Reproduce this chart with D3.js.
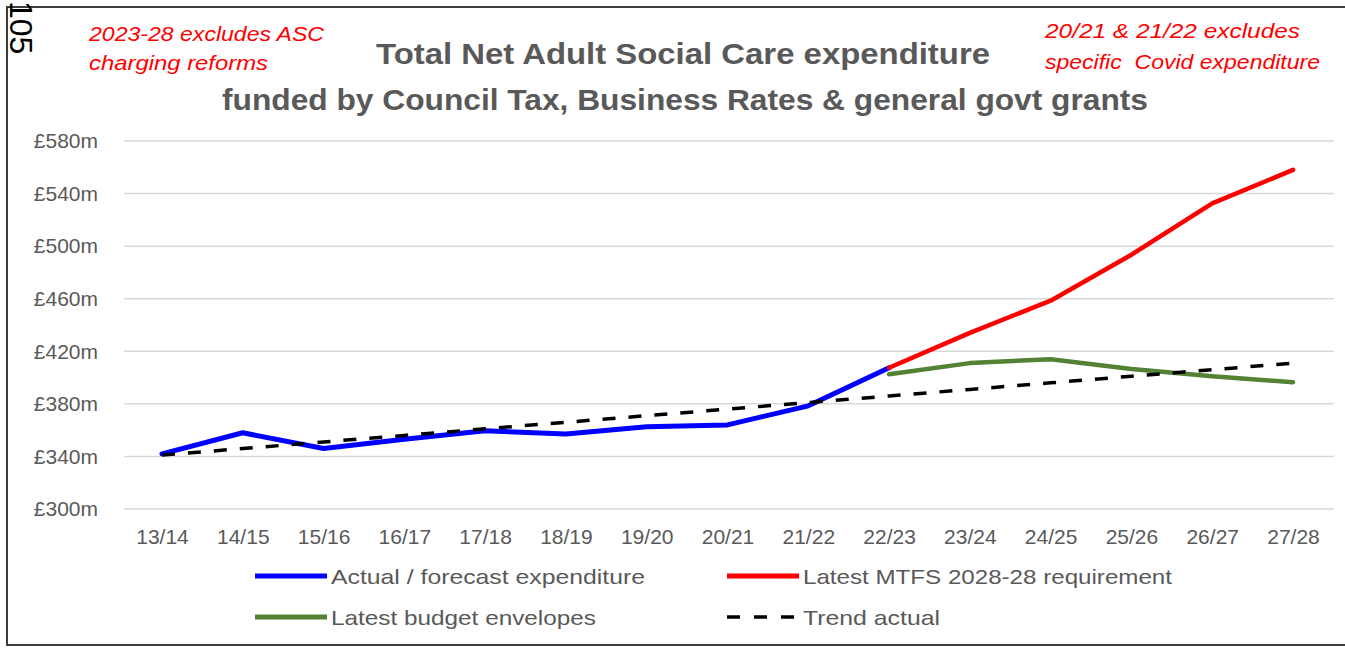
<!DOCTYPE html>
<html>
<head>
<meta charset="utf-8">
<script src="https://cdn.jsdelivr.net/npm/d3@7"></script>
<style>
  html, body { margin: 0; padding: 0; background: #ffffff; }
  svg { display: block; }
  svg text { white-space: pre; }
</style>
</head>
<body>
<svg id="chart" width="1345" height="649"></svg>
<script>
// Financial years on the x axis
const categories = ["13/14", "14/15", "15/16", "16/17", "17/18", "18/19", "19/20", "20/21",
                    "21/22", "22/23", "23/24", "24/25", "25/26", "26/27", "27/28"];

// Net ASC expenditure, £m
const actualForecast = [342, 358, 346, 353, 359.5, 357, 362.5, 364, 378.5, 407.5,
                        null, null, null, null, null];
const mtfsRequirement = [null, null, null, null, null, null, null, null, null, 407.5,
                         434, 458.5, 493.5, 532.5, 558];
const budgetEnvelopes = [null, null, null, null, null, null, null, null, null, 402.5,
                         411, 414, 406.5, 401, 396.5];
const trendActual = [341, 346, 351, 356, 361, 366, 371, 376, 381, 386, 391, 396, 401, 406, 411];

const yTicks = [300, 340, 380, 420, 460, 500, 540, 580];

const seriesNames = ["Actual / forecast expenditure", "Latest MTFS 2028-28 requirement",
                     "Latest budget envelopes", "Trend actual"];

const titleLines = ["Total Net Adult Social Care expenditure",
                    "funded by Council Tax, Business Rates & general govt grants"];
const noteLeft = ["2023-28 excludes ASC", "charging reforms"];
const noteRight = ["20/21 & 21/22 excludes", "specific  Covid expenditure"];

const svg = d3.select("#chart");
const grey = "#595959";
const font = "'Liberation Sans', Arial, sans-serif";

const x = d3.scalePoint().domain(categories).range([162, 1293]);
const y = d3.scaleLinear().domain([300, 580]).range([509, 141]);

// Frame
svg.append("path")
  .attr("d", "M1345,7 H7 V645 H1345")
  .attr("fill", "none").attr("stroke", "#3c3c3c").attr("stroke-width", 2);

// Page number
svg.append("text")
  .attr("transform", "translate(10,1) rotate(90)")
  .attr("font-family", font).attr("font-size", 32).attr("fill", "#000")
  .text("105");

// Title
svg.selectAll("text.title").data(titleLines).join("text")
  .attr("class", "title")
  .attr("x", (d, i) => i === 0 ? 376 : 222)
  .attr("y", (d, i) => i === 0 ? 64 : 110)
  .attr("textLength", (d, i) => i === 0 ? 614 : 926)
  .attr("lengthAdjust", "spacingAndGlyphs")
  .attr("font-family", font).attr("font-weight", "bold").attr("font-size", 30)
  .attr("fill", grey)
  .text(d => d);

// Red notes
function note(lines, x0, ys, widths) {
  svg.append("g").selectAll("text").data(lines).join("text")
    .attr("x", x0).attr("y", (d, i) => ys[i])
    .attr("textLength", (d, i) => widths[i])
    .attr("lengthAdjust", "spacingAndGlyphs")
    .attr("font-family", font).attr("font-style", "italic").attr("font-size", 21)
    .attr("fill", "#ff0000")
    .text(d => d);
}
note(noteLeft, 89, [41, 70], [235, 179]);
note(noteRight, 1045, [38, 69], [255, 275]);

// Gridlines
svg.append("g").selectAll("line").data(yTicks).join("line")
  .attr("x1", 124).attr("x2", 1334)
  .attr("y1", d => y(d)).attr("y2", d => y(d))
  .attr("stroke", "#d9d9d9").attr("stroke-width", 1.5);

// Y axis labels
const yAxis = d3.axisLeft(y).tickValues(yTicks).tickSize(0).tickPadding(0)
  .tickFormat(d => "£" + d + "m");
svg.append("g").attr("transform", "translate(98,0)").call(yAxis)
  .call(g => g.select(".domain").remove())
  .selectAll("text")
  .attr("font-family", font).attr("font-size", 21).attr("fill", grey);

// X axis labels
const xAxis = d3.axisBottom(x).tickSize(0).tickPadding(0);
svg.append("g").attr("transform", "translate(0,529)").call(xAxis)
  .call(g => g.select(".domain").remove())
  .selectAll("text")
  .attr("font-family", font).attr("font-size", 21).attr("fill", grey);

// Lines
const line = d3.line()
  .defined(d => d.v !== null)
  .x(d => x(d.c))
  .y(d => y(d.v));

const series = [
  { name: seriesNames[0], values: actualForecast, color: "#0000ff", width: 5, dash: null },
  { name: seriesNames[1], values: mtfsRequirement, color: "#ff0000", width: 4.5, dash: null },
  { name: seriesNames[2], values: budgetEnvelopes, color: "#548235", width: 4.5, dash: null },
  { name: seriesNames[3], values: trendActual, color: "#000000", width: 3.5, dash: "13,13" }
];

svg.append("g").selectAll("path").data(series).join("path")
  .attr("d", s => line(s.values.map((v, i) => ({ c: categories[i], v }))))
  .attr("fill", "none")
  .attr("stroke", s => s.color)
  .attr("stroke-width", s => s.width)
  .attr("stroke-dasharray", s => s.dash)
  .attr("stroke-linejoin", "round")
  .attr("stroke-linecap", s => s.dash ? "butt" : "round");

// Legend
const legendPos = [
  { lx: 255, ty: 576, tw: 314 },
  { lx: 727, ty: 576, tw: 369 },
  { lx: 255, ty: 617, tw: 265 },
  { lx: 727, ty: 617, tw: 137 }
];
const legend = svg.append("g").selectAll("g").data(series).join("g")
  .attr("transform", (s, i) => `translate(${legendPos[i].lx},${legendPos[i].ty})`);
legend.append("line")
  .attr("x1", 0).attr("x2", 72).attr("y1", 0).attr("y2", 0)
  .attr("stroke", s => s.color)
  .attr("stroke-width", s => s.dash ? 3.5 : 5)
  .attr("stroke-dasharray", s => s.dash ? "13,14" : null)
  .attr("stroke-linecap", "butt");
legend.append("text")
  .attr("x", 76).attr("y", 8)
  .attr("textLength", (s, i) => legendPos[i].tw)
  .attr("lengthAdjust", "spacingAndGlyphs")
  .attr("font-family", font).attr("font-size", 21).attr("fill", grey)
  .text(s => s.name);
</script>
</body>
</html>
